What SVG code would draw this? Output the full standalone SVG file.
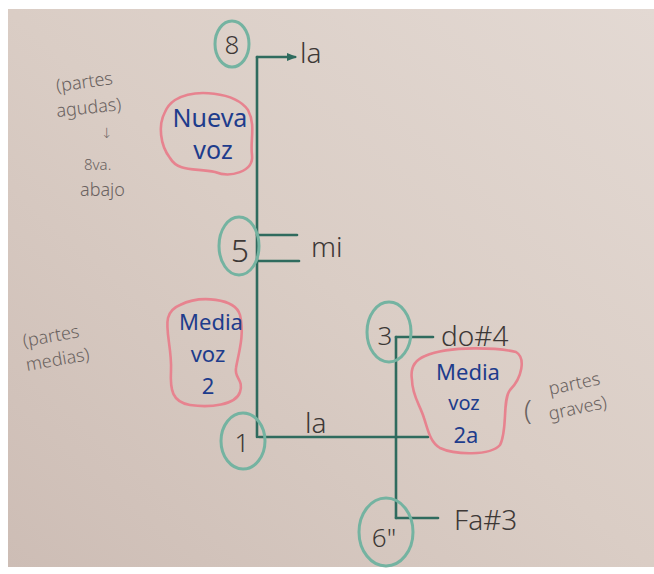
<svg xmlns="http://www.w3.org/2000/svg" width="654" height="574" viewBox="0 0 654 574">
  <defs>
    <linearGradient id="paper" x1="1" y1="0" x2="0" y2="1">
      <stop offset="0" stop-color="#e3d9d3"/>
      <stop offset="0.5" stop-color="#dacdc5"/>
      <stop offset="1" stop-color="#cdbdb5"/>
    </linearGradient>
    <marker id="tip" viewBox="0 0 10 10" refX="8" refY="5" markerWidth="4" markerHeight="4" orient="auto">
      <path d="M0,1 L10,5 L0,9 Z" fill="#2f6b5e"/>
    </marker>
    <style>
      .ln{stroke:#2f6b5e;stroke-width:2.6;fill:none;stroke-linecap:round}
      .ring{stroke:#74b3a1;stroke-width:3;fill:none}
      .blob{stroke:#e7838f;stroke-width:2.6;fill:none;stroke-linejoin:round}
      .num{font-family:"Noto Sans","DejaVu Sans",sans-serif;font-size:26px;fill:#3d3836;text-anchor:middle;font-weight:300}
      .note{font-family:"Noto Sans","DejaVu Sans",sans-serif;font-size:28px;fill:#3d3836;font-weight:300}
      .blue{font-family:"Noto Sans","DejaVu Sans",sans-serif;font-size:22px;fill:#1e3c8c;text-anchor:middle}
      .pen{font-family:"Noto Sans","DejaVu Sans",sans-serif;font-size:18px;fill:#6a6260;font-weight:300}
    </style>
  </defs>
  <rect x="0" y="0" width="654" height="574" fill="#ffffff"/>
  <rect x="8" y="9" width="646" height="558" fill="url(#paper)"/>

  <g id="connectors">
    <line class="ln" x1="257" y1="57" x2="257" y2="437"/>
    <line class="ln" x1="257" y1="57" x2="295" y2="57" marker-end="url(#tip)"/>
    <line class="ln" x1="257" y1="235" x2="297" y2="235"/>
    <line class="ln" x1="257" y1="261" x2="299" y2="261"/>
    <line class="ln" x1="259" y1="437" x2="428" y2="437"/>
    <line class="ln" x1="396" y1="337" x2="396" y2="518"/>
    <line class="ln" x1="396" y1="337" x2="433" y2="337"/>
    <line class="ln" x1="396" y1="518" x2="438" y2="518"/>
  </g>

  <g id="node-8">
    <ellipse class="ring" cx="232" cy="44" rx="17" ry="23"/>
    <text class="num" x="232" y="54">8</text>
  </g>
  <g id="node-5">
    <ellipse class="ring" cx="239" cy="246" rx="20" ry="29"/>
    <text class="num" x="240" y="262" style="font-size:32px">5</text>
  </g>
  <g id="node-1">
    <ellipse class="ring" cx="243" cy="441" rx="22" ry="28"/>
    <text class="num" x="242" y="452">1</text>
  </g>
  <g id="node-3">
    <ellipse class="ring" cx="389" cy="332" rx="22" ry="30"/>
    <text class="num" x="385" y="345">3</text>
  </g>
  <g id="node-6">
    <ellipse class="ring" cx="386" cy="532" rx="27" ry="34"/>
    <text class="num" x="384" y="547">6"</text>
  </g>

  <g id="labels">
    <text class="note" x="300" y="63">la</text>
    <text class="note" x="311" y="257">mi</text>
    <text class="note" x="305" y="433">la</text>
    <text class="note" x="441" y="346">do#4</text>
    <text class="note" x="454" y="530">Fa#3</text>
  </g>

  <g id="nueva-voz">
    <path class="blob" d="M175 100 C195 88,235 92,248 110 C256 125,250 140,252 155 C254 172,230 178,215 172 C195 168,178 172,170 158 C160 145,158 125,165 112 C168 105,172 102,175 100 Z"/>
    <text class="blue" x="210" y="127" style="font-size:25px">Nueva</text>
    <text class="blue" x="213" y="159" style="font-size:25px">voz</text>
  </g>
  <g id="media-voz-2">
    <path class="blob" d="M180 305 C200 295,235 298,240 315 C245 335,238 355,236 368 C234 378,244 380,240 392 C236 405,210 408,190 405 C172 402,170 390,171 370 C172 350,165 330,168 318 C170 310,175 307,180 305 Z"/>
    <text class="blue" x="211" y="330">Media</text>
    <text class="blue" x="208" y="362">voz</text>
    <text class="blue" x="208" y="394">2</text>
  </g>
  <g id="media-voz-2a">
    <path class="blob" d="M425 356 C450 345,500 348,516 352 C526 358,522 378,510 390 C502 400,508 430,500 445 C490 456,455 455,440 448 C430 442,428 430,424 418 C420 405,412 395,412 380 C410 368,415 360,425 356 Z"/>
    <text class="blue" x="468" y="380">Media</text>
    <text class="blue" x="464" y="410" style="font-size:20px">voz</text>
    <text class="blue" x="466" y="443">2a</text>
  </g>

  <g id="notes">
    <text class="pen" transform="rotate(-8 57 92)" x="57" y="92">(partes</text>
    <text class="pen" transform="rotate(-6 57 117)" x="57" y="117">agudas)</text>
    <text class="pen" x="101" y="138" style="font-size:14px">↓</text>
    <text class="pen" x="84" y="170" style="font-size:15px">8va.</text>
    <text class="pen" x="80" y="196">abajo</text>
    <text class="pen" transform="rotate(-10 24 347)" x="24" y="347">(partes</text>
    <text class="pen" transform="rotate(-10 27 371)" x="27" y="371">medias)</text>
    <text class="pen" transform="rotate(-12 550 395)" x="550" y="395">partes</text>
    <text class="pen" x="524" y="420" style="font-size:28px">(</text>
    <text class="pen" transform="rotate(-12 550 420)" x="550" y="420">graves)</text>
  </g>
</svg>
